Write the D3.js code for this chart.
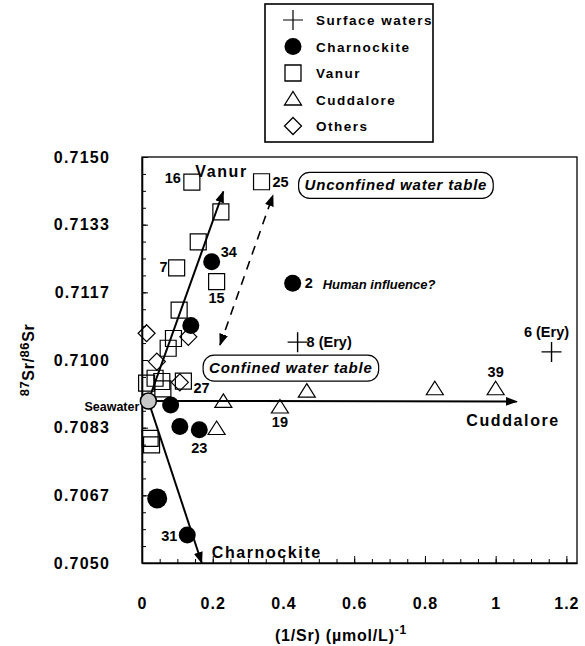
<!DOCTYPE html>
<html>
<head>
<meta charset="utf-8">
<script src="https://cdn.jsdelivr.net/npm/d3@7/dist/d3.min.js"></script>
<style>
  body { margin: 0; background: #fff; }
  text { font-family: "Liberation Sans", Arial, sans-serif; font-weight: bold; fill: #000; }
</style>
</head>
<body>
<div id="chart"></div>
<script>
// series values, [1/Sr, 87Sr/86Sr]
var surfaceWaters = [[0.44, 0.71044], [1.158, 0.71020]];
var surfaceIds = ["8 (Ery)", "6 (Ery)"];

var charnockite = [[0.197, 0.71242], [0.426, 0.71189], [0.138, 0.71085], [0.081, 0.70889],
                   [0.107, 0.70836], [0.162, 0.70828], [0.043, 0.70659], [0.128, 0.70569]];
var charnockiteIds = ["34", "2", "", "", "", "23", "", "31"];

var vanur = [[0.141, 0.71438], [0.338, 0.71439], [0.223, 0.71365], [0.159, 0.71291], [0.098, 0.71227],
             [0.211, 0.71193], [0.105, 0.71123], [0.089, 0.71053], [0.074, 0.71029], [0.037, 0.70955],
             [0.056, 0.70947], [0.013, 0.70943], [0.117, 0.70948], [0.059, 0.70929], [0.023, 0.70807],
             [0.027, 0.70791]];
var vanurIds = ["16", "25", "", "", "7", "15", "", "", "", "", "", "", "27", "", "", ""];

var cuddalore = [[0.230, 0.70897], [0.390, 0.70883], [0.211, 0.70830], [0.466, 0.70922],
                 [0.828, 0.70928], [1.000, 0.70928]];
var cuddaloreIds = ["", "19", "", "", "", "39"];

var others = [[0.013, 0.71066], [0.131, 0.71057], [0.042, 0.70996], [0.107, 0.70945]];

var seawater = [0.018, 0.70899];

// end members reached from seawater
var endMembers = [["Vanur", 0.230, 0.71415], ["Charnockite", 0.169, 0.70500], ["Cuddalore", 1.060, 0.70898]];
// dashed link between the two water tables
var waterTableLink = [[0.2205, 0.71037], [0.3704, 0.71406]];

var legendNames = ["Surface waters", "Charnockite", "Vanur", "Cuddalore", "Others"];
var xTicks = [0, 0.2, 0.4, 0.6, 0.8, 1, 1.2];
var yTicks = [0.7050, 0.705 + 0.01 / 6, 0.705 + 0.02 / 6, 0.7100, 0.705 + 0.04 / 6, 0.705 + 0.05 / 6, 0.7150];

// layout
var W = 585, H = 646;
var plot = { left: 142, right: 577, top: 157, bottom: 563 };

var svg = d3.select("#chart").append("svg")
    .attr("width", W)
    .attr("height", H);

var x = d3.scaleLinear().domain([0, 1.23]).range([plot.left, plot.right]);
var y = d3.scaleLinear().domain([0.705, 0.715]).range([plot.bottom, plot.top]);

var defs = svg.append("defs");
defs.append("marker")
    .attr("id", "head")
    .attr("viewBox", "0 -5 12 10")
    .attr("refX", 11).attr("refY", 0)
    .attr("markerWidth", 12).attr("markerHeight", 10)
    .attr("markerUnits", "userSpaceOnUse")
    .attr("orient", "auto-start-reverse")
  .append("path")
    .attr("d", "M0,-4.5L12,0L0,4.5Z")
    .attr("fill", "#000");

// frame
svg.append("rect")
    .attr("x", plot.left).attr("y", plot.top)
    .attr("width", plot.right - plot.left).attr("height", plot.bottom - plot.top)
    .attr("fill", "none").attr("stroke", "#000").attr("stroke-width", 1.3);

// minor ticks
svg.append("g")
    .attr("transform", "translate(0," + plot.bottom + ")")
    .call(d3.axisBottom(x).tickValues(d3.range(0, 1.2001, 0.05)).tickSize(-4).tickSizeOuter(0).tickFormat(""))
    .call(function(g) { g.select(".domain").remove(); });
svg.append("g")
    .attr("transform", "translate(" + plot.left + ",0)")
    .call(d3.axisLeft(y).tickValues(d3.range(0, 25).map(function(i) { return 0.705 + i * 0.01 / 24; }))
        .tickSize(-4).tickSizeOuter(0).tickFormat(""))
    .call(function(g) { g.select(".domain").remove(); });

// main axes
var xAxis = svg.append("g")
    .attr("transform", "translate(0," + plot.bottom + ")")
    .call(d3.axisBottom(x).tickValues(xTicks).tickSize(-7).tickSizeOuter(0).tickPadding(35)
        .tickFormat(function(d) { return d3.format("")(+d.toFixed(1)); }));
xAxis.select(".domain").attr("stroke-width", 1.6);
xAxis.selectAll("text").style("font-size", "16px").style("letter-spacing", "1px").style("font-family", null);

var yAxis = svg.append("g")
    .attr("transform", "translate(" + plot.left + ",0)")
    .call(d3.axisLeft(y).tickValues(yTicks).tickSize(-6).tickSizeOuter(0).tickPadding(32)
        .tickFormat(function(d) { return d.toFixed(4); }));
yAxis.select(".domain").attr("stroke-width", 1.6);
yAxis.selectAll("text").style("font-size", "16px").style("letter-spacing", "1.2px").style("font-family", null);

// axis titles
svg.append("text")
    .attr("x", 341).attr("y", 641)
    .attr("text-anchor", "middle")
    .style("font-size", "16px")
    .style("letter-spacing", "0.8px")
    .html('(1/Sr) (\u00b5mol/L)<tspan dy="-7" style="font-size:12px">-1</tspan>');

svg.append("text")
    .attr("transform", "translate(29,360) rotate(-90)")
    .attr("text-anchor", "middle")
    .style("font-size", "16px")
    .style("letter-spacing", "0.6px")
    .html('<tspan style="font-size:13px">87</tspan><tspan dy="5">Sr/</tspan><tspan dy="-5" style="font-size:13px">86</tspan><tspan dy="5">Sr</tspan>');

// mixing arrows from seawater
endMembers.forEach(function(e) {
  svg.append("line")
      .attr("x1", x(seawater[0])).attr("y1", y(seawater[1]))
      .attr("x2", x(e[1])).attr("y2", y(e[2]))
      .attr("stroke", "#000").attr("stroke-width", 2)
      .attr("marker-end", "url(#head)");
});

svg.append("line")
    .attr("x1", x(waterTableLink[0][0])).attr("y1", y(waterTableLink[0][1]))
    .attr("x2", x(waterTableLink[1][0])).attr("y2", y(waterTableLink[1][1]))
    .attr("stroke", "#000").attr("stroke-width", 1.6)
    .attr("stroke-dasharray", "9,7")
    .attr("marker-start", "url(#head)")
    .attr("marker-end", "url(#head)");

// marker shapes
var shapes = {
  cross: "M-10,0H10M0,-10V10",
  square: "M-8,-8H8V8H-8Z",
  triangle: "M0,-8L8.5,5.5L-8.5,5.5Z",
  diamond: "M0,-8.5L8.5,0L0,8.5L-8.5,0Z"
};

function drawPoints(data, shape) {
  svg.append("g").selectAll("path")
    .data(data)
    .join("path")
      .attr("transform", function(d) { return "translate(" + x(d[0]) + "," + y(d[1]) + ")"; })
      .attr("d", shapes[shape])
      .attr("fill", "none")
      .attr("stroke", "#000")
      .attr("stroke-width", shape == "cross" ? 1.4 : 1.2);
}

drawPoints(vanur, "square");
drawPoints(cuddalore, "triangle");
drawPoints(others, "diamond");
drawPoints(surfaceWaters, "cross");

svg.append("g").selectAll("circle")
  .data(charnockite)
  .join("circle")
    .attr("cx", function(d) { return x(d[0]); })
    .attr("cy", function(d) { return y(d[1]); })
    .attr("r", function(d, i) { return i == 6 ? 10 : 8.5; })
    .attr("fill", "#000");

// seawater point
svg.append("circle")
    .attr("cx", x(seawater[0])).attr("cy", y(seawater[1]))
    .attr("r", 8)
    .attr("fill", "#c8c8c8").attr("stroke", "#000").attr("stroke-width", 1.5);

// sample numbers: anchor, dx, dy
var labelPlace = {
  "16": ["end", -11, 1], "25": ["start", 11, 5], "7": ["end", -9, 4], "15": ["middle", 0, 21],
  "27": ["start", 10, 12], "34": ["start", 9, -5], "2": ["start", 12, 5], "23": ["middle", 0, 23],
  "31": ["end", -10, 6], "19": ["middle", 0, 19], "39": ["middle", 0, -12],
  "8 (Ery)": ["start", 9, 5], "6 (Ery)": ["middle", -5, -15]
};

function drawIds(data, ids) {
  data.forEach(function(d, i) {
    var id = ids[i];
    if (!id) return;
    var p = labelPlace[id];
    svg.append("text")
        .attr("x", x(d[0]) + p[1]).attr("y", y(d[1]) + p[2])
        .attr("text-anchor", p[0])
        .style("font-size", "14.5px")
        .text(id);
  });
}
drawIds(vanur, vanurIds);
drawIds(charnockite, charnockiteIds);
drawIds(cuddalore, cuddaloreIds);
drawIds(surfaceWaters, surfaceIds);

// end member names
var memberPlace = { "Vanur": ["start", -28, -15], "Charnockite": ["start", 10, -5], "Cuddalore": ["end", 43, 25] };
endMembers.forEach(function(e) {
  var p = memberPlace[e[0]];
  svg.append("text")
      .attr("x", x(e[1]) + p[1]).attr("y", y(e[2]) + p[2])
      .attr("text-anchor", p[0])
      .style("font-size", "16px")
      .style("letter-spacing", "1.6px")
      .text(e[0]);
});

svg.append("text")
    .attr("x", x(seawater[0]) - 9).attr("y", y(seawater[1]) + 10)
    .attr("text-anchor", "end")
    .style("font-size", "12.5px")
    .text("Seawater");

svg.append("text")
    .attr("x", x(charnockite[1][0]) + 30).attr("y", y(charnockite[1][1]) + 6)
    .style("font-size", "13px").style("font-style", "italic")
    .text("Human influence?");

// rounded text boxes
function textBox(label, cx, cy) {
  var g = svg.append("g").attr("transform", "translate(" + x(cx) + "," + y(cy) + ")");
  var t = g.append("text")
      .attr("text-anchor", "middle")
      .attr("y", 5)
      .style("font-size", "15px").style("font-style", "italic")
      .style("letter-spacing", "0.8px")
      .text(label);
  var w = t.node().getComputedTextLength() + 12;
  g.insert("rect", "text")
      .attr("x", -w / 2).attr("y", -13)
      .attr("width", w).attr("height", 26)
      .attr("rx", 11)
      .attr("fill", "#fff").attr("stroke", "#000").attr("stroke-width", 1.2);
}
textBox("Unconfined water table", 0.718, 0.71430);
textBox("Confined water table", 0.421, 0.70980);

// legend
var legend = svg.append("g").attr("transform", "translate(265,4)");
legend.append("rect")
    .attr("width", 168).attr("height", 138)
    .attr("fill", "#fff").attr("stroke", "#000").attr("stroke-width", 1.6);
var legendShapes = ["cross", "circle", "square", "triangle", "diamond"];
legendNames.forEach(function(name, i) {
  var row = legend.append("g").attr("transform", "translate(28," + (16 + i * 26.5) + ")");
  if (legendShapes[i] == "circle") {
    row.append("circle").attr("r", 8.5).attr("fill", "#000");
  } else {
    row.append("path")
        .attr("d", shapes[legendShapes[i]])
        .attr("fill", "none").attr("stroke", "#000")
        .attr("stroke-width", legendShapes[i] == "cross" ? 1.2 : 1.3);
  }
  row.append("text")
      .attr("x", 23).attr("y", 5)
      .style("font-size", "13.5px")
      .style("letter-spacing", "1.5px")
      .text(name);
});
</script>
</body>
</html>
